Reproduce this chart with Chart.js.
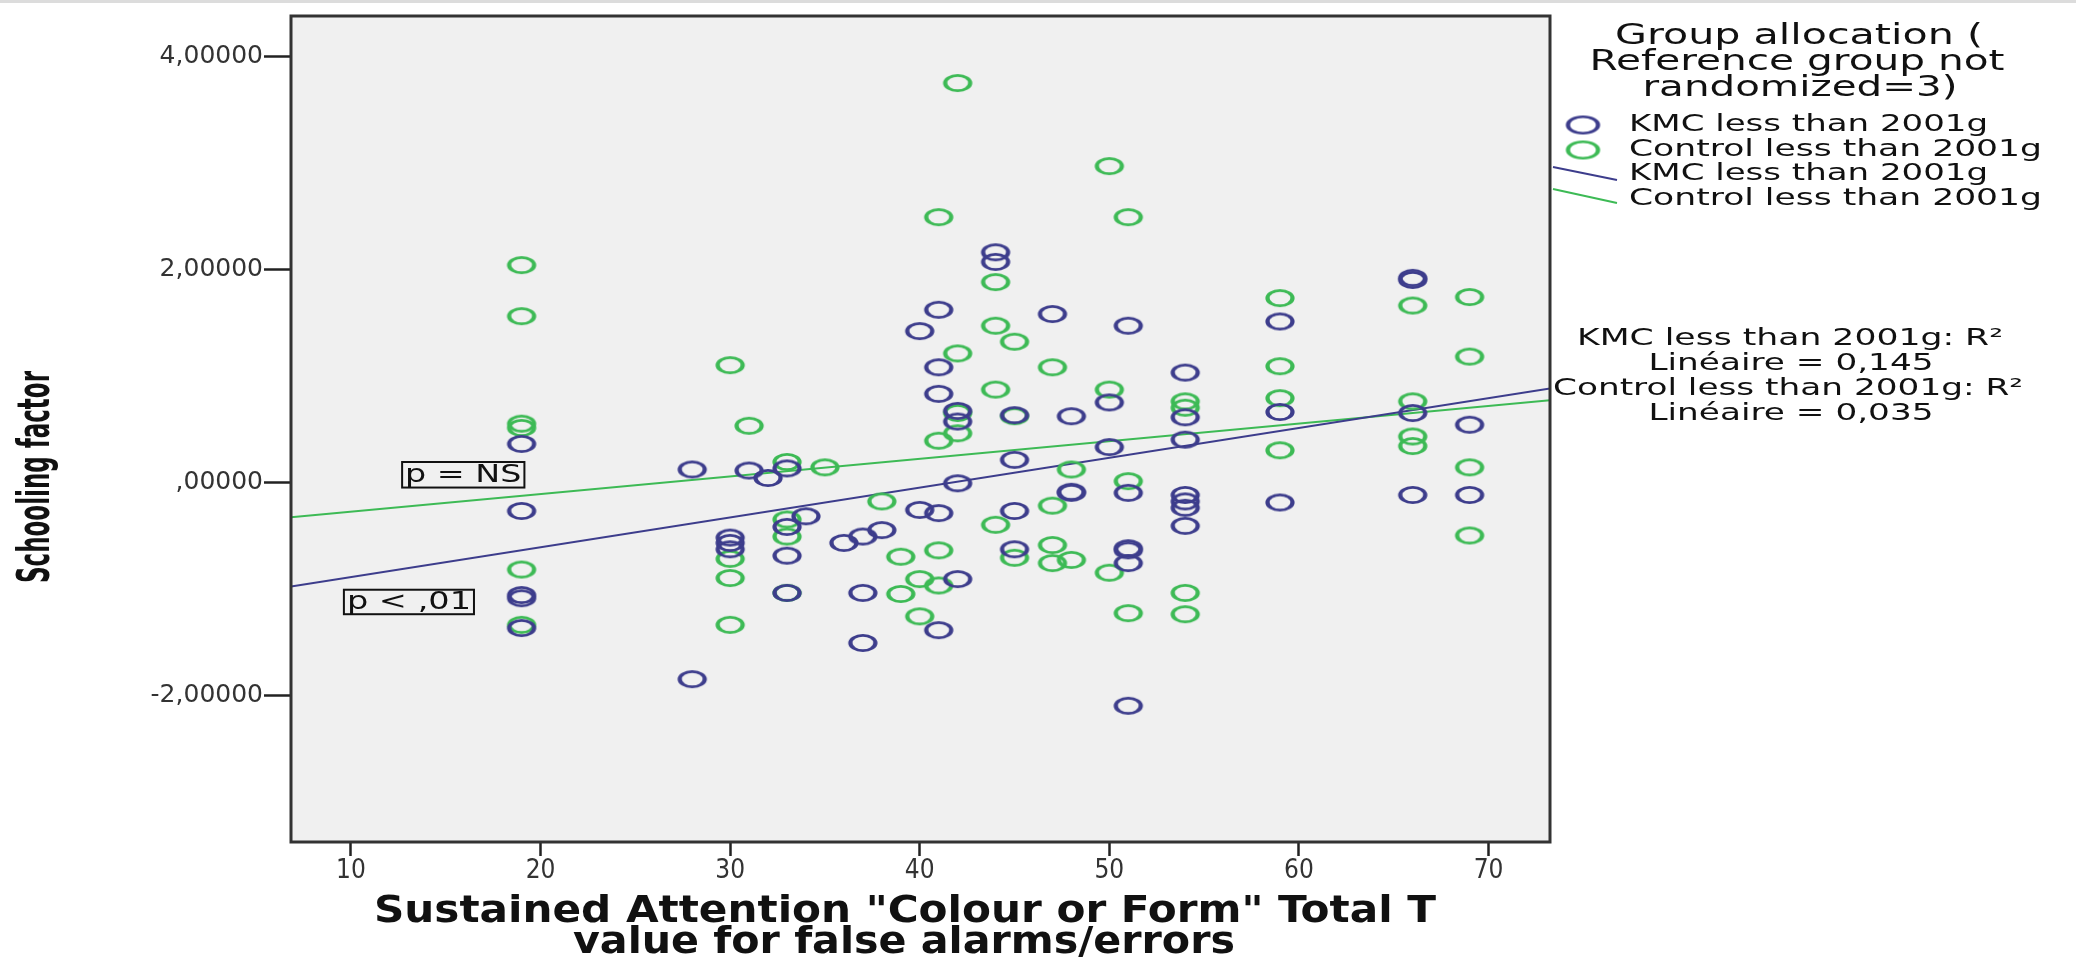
<!DOCTYPE html>
<html lang="en">

<head>
    <meta charset="UTF-8">
    <title>Schooling factor vs Sustained Attention</title>
    <style>
        body { margin: 0; background: #ffffff; }
        canvas { display: block; }
    </style>
</head>

<body>
    <canvas id="graficoCanvas" width="2076" height="958"></canvas>

    <script src="https://cdn.jsdelivr.net/npm/chart.js"></script>

    <script>
        // valores
        const kmcX = [19, 19, 19, 19, 19, 28, 28, 30, 30, 30, 31, 32, 33, 33, 33, 33, 34, 36, 37, 37, 37, 38, 40, 40,
            41, 41, 41, 41, 41, 42, 42, 42, 42, 44, 44, 45, 45, 45, 45, 47, 48, 48, 48, 50, 50,
            51, 51, 51, 51, 51, 51, 54, 54, 54, 54, 54, 54, 54, 59, 59, 59, 66, 66, 66, 66, 69, 69];
        const kmcY = [0.36, -0.27, -1.06, -1.09, -1.37, 0.12, -1.85, -0.52, -0.57, -0.63, 0.11, 0.04, 0.13, -0.42, -0.69, -1.04, -0.32, -0.57, -0.51, -1.04, -1.51, -0.45, 1.42, -0.26,
            1.62, 1.08, 0.83, -0.29, -1.39, 0.67, 0.57, -0.01, -0.91, 2.16, 2.07, 0.63, 0.21, -0.27, -0.63, 1.58, 0.62, -0.09, -0.10, 0.75, 0.33,
            1.47, -0.10, -0.62, -0.64, -0.76, -2.10, 1.03, 0.61, 0.40, -0.12, -0.18, -0.24, -0.41, 1.51, 0.66, -0.19, 1.92, 1.90, 0.65, -0.12, 0.54, -0.12];

        const ctrlX = [19, 19, 19, 19, 19, 19, 30, 30, 30, 30, 31, 33, 33, 33, 33, 35, 38, 39, 39, 40, 40,
            41, 41, 41, 41, 42, 42, 42, 42, 44, 44, 44, 44, 45, 45, 45, 47, 47, 47, 47, 48, 48,
            50, 50, 50, 51, 51, 51, 54, 54, 54, 54, 59, 59, 59, 59, 66, 66, 66, 66, 69, 69, 69, 69];
        const ctrlY = [2.04, 1.56, 0.55, 0.51, -0.82, -1.34, 1.10, -0.72, -0.90, -1.34, 0.53, 0.19, -0.35, -0.51, -1.04, 0.14, -0.18, -0.70, -1.05, -0.91, -1.26,
            2.49, 0.39, -0.64, -0.97, 3.75, 1.21, 0.65, 0.46, 1.88, 1.47, 0.87, -0.40, 1.32, 0.62, -0.71, 1.08, -0.22, -0.59, -0.76, 0.12, -0.73,
            2.97, 0.87, -0.85, 2.49, 0.01, -1.23, 0.76, 0.70, -1.04, -1.24, 1.73, 1.09, 0.79, 0.30, 1.66, 0.76, 0.43, 0.34, 1.74, 1.18, 0.14, -0.50];

        // retas de ajuste (extremos nos limites do eixo x)
        const fitX = [6.84, 73.24];
        const kmcFitY = [-0.98, 0.88];
        const ctrlFitY = [-0.33, 0.77];

        const xTickValues = [10, 20, 30, 40, 50, 60, 70];
        const yTickValues = [-2, 0, 2, 4];
        const yTickLabels = ['-2,00000', ',00000', '2,00000', '4,00000'];

        const groupNames = ['KMC less than 2001g', 'Control less than 2001g'];
        const legendTitle = ['Group allocation (', 'Reference group not', 'randomized=3)'];
        const r2Lines = ['KMC less than 2001g: R\u00b2', 'Lin\u00e9aire = 0,145', 'Control less than 2001g: R\u00b2', 'Lin\u00e9aire = 0,035'];
        const xTitle = ['Sustained Attention "Colour or Form" Total T', 'value for false alarms/errors'];
        const yTitle = 'Schooling factor';

        const AZUL = '#3d3d8c';
        const VERDE = '#3dba55';
        const NARROW = '"Liberation Sans Narrow", "DejaVu Sans Condensed", "Liberation Sans", sans-serif';
        const VERDANA = '"DejaVu Sans", Verdana, sans-serif';

        function toPoints(xs, ys) {
            return xs.map((x, i) => ({ x: x, y: ys[i] }));
        }

        // marcador oval (os circulos da figura estao esticados na horizontal)
        function criarAnel(cor, rx, ry, lw) {
            const c = document.createElement('canvas');
            c.width = Math.ceil(2 * rx + lw * rx / ry + 2);
            c.height = Math.ceil(2 * ry + lw + 2);
            const g = c.getContext('2d');
            g.translate(c.width / 2, c.height / 2);
            g.scale(rx / ry, 1);
            g.beginPath();
            g.arc(0, 0, ry, 0, Math.PI * 2);
            g.lineWidth = lw;
            g.strokeStyle = cor;
            g.stroke();
            return c;
        }

        const anelAzul = criarAnel(AZUL, 12.5, 7.6, 2.6);
        const anelVerde = criarAnel(VERDE, 12.5, 7.6, 2.6);
        const anelAzulLeg = criarAnel(AZUL, 15, 8.3, 2.4);
        const anelVerdeLeg = criarAnel(VERDE, 15, 8.3, 2.4);

        // texto ajustado a uma largura
        function textoLargura(ctx, txt, x, y, largura, fonte, align, cor) {
            ctx.save();
            ctx.font = fonte;
            const w = ctx.measureText(txt).width;
            ctx.translate(x, y);
            ctx.scale(largura / w, 1);
            ctx.textAlign = align;
            ctx.textBaseline = 'middle';
            ctx.fillStyle = cor || '#111';
            ctx.fillText(txt, 0, 0);
            ctx.restore();
        }

        const notas = [
            { texto: 'p = NS', x0: 12.7, x1: 19.15, y0: 0.19, y1: -0.05 },
            { texto: 'p < ,01', x0: 9.63, x1: 16.49, y0: -1.01, y1: -1.24 }
        ];

        const molduraPlugin = {
            id: 'moldura',
            beforeDraw(chart) {
                const a = chart.chartArea;
                const ctx = chart.ctx;
                ctx.save();
                ctx.fillStyle = '#f0f0f0';
                ctx.fillRect(a.left, a.top, a.right - a.left, a.bottom - a.top);
                ctx.fillStyle = '#dcdcdc';
                ctx.fillRect(0, 0, chart.width, 3);
                ctx.restore();
            },
            afterDatasetsDraw(chart) {
                const ctx = chart.ctx;
                const sx = chart.scales.x, sy = chart.scales.y;
                notas.forEach(n => {
                    const l = sx.getPixelForValue(n.x0), r = sx.getPixelForValue(n.x1);
                    const t = sy.getPixelForValue(n.y0), b = sy.getPixelForValue(n.y1);
                    ctx.save();
                    ctx.lineWidth = 2;
                    ctx.strokeStyle = '#111';
                    ctx.strokeRect(l, t, r - l, b - t);
                    ctx.restore();
                    textoLargura(ctx, n.texto, (l + r) / 2, (t + b) / 2 + 1, (r - l) - 6, '25px ' + VERDANA, 'center', '#111');
                });
            },
            afterDraw(chart) {
                const a = chart.chartArea;
                const ctx = chart.ctx;
                ctx.save();
                ctx.lineWidth = 3;
                ctx.strokeStyle = '#333';
                ctx.strokeRect(a.left, a.top, a.right - a.left, a.bottom - a.top);
                ctx.restore();

                // titulos dos eixos
                textoLargura(ctx, xTitle[0], 905, 912, 1062, 'bold 38px ' + NARROW, 'center', '#111');
                textoLargura(ctx, xTitle[1], 904, 943, 662, 'bold 38px ' + NARROW, 'center', '#111');
                ctx.save();
                ctx.translate(38, 477);
                ctx.rotate(-Math.PI / 2);
                textoLargura(ctx, yTitle, 0, 0, 212, 'bold 44px ' + NARROW, 'center', '#111');
                ctx.restore();

                // legenda
                const fLeg = '28px ' + VERDANA;
                textoLargura(ctx, legendTitle[0], 1799, 37, 368, fLeg, 'center');
                textoLargura(ctx, legendTitle[1], 1797, 63, 415, fLeg, 'center');
                textoLargura(ctx, legendTitle[2], 1800, 89, 315, fLeg, 'center');

                const fItem = '23px ' + VERDANA;
                ctx.drawImage(anelAzulLeg, 1583 - anelAzulLeg.width / 2, 125 - anelAzulLeg.height / 2);
                ctx.drawImage(anelVerdeLeg, 1583 - anelVerdeLeg.width / 2, 150 - anelVerdeLeg.height / 2);
                textoLargura(ctx, groupNames[0], 1629, 125, 359, fItem, 'left');
                textoLargura(ctx, groupNames[1], 1629, 150, 413, fItem, 'left');

                ctx.save();
                ctx.lineWidth = 2;
                ctx.strokeStyle = AZUL;
                ctx.beginPath(); ctx.moveTo(1553, 167); ctx.lineTo(1617, 180); ctx.stroke();
                ctx.strokeStyle = VERDE;
                ctx.beginPath(); ctx.moveTo(1553, 189); ctx.lineTo(1617, 203); ctx.stroke();
                ctx.restore();
                textoLargura(ctx, groupNames[0], 1629, 174, 359, fItem, 'left');
                textoLargura(ctx, groupNames[1], 1629, 199, 413, fItem, 'left');

                // R2
                textoLargura(ctx, r2Lines[0], 1790, 339, 426, fItem, 'center');
                textoLargura(ctx, r2Lines[1], 1791, 364, 285, fItem, 'center');
                textoLargura(ctx, r2Lines[2], 1788, 389, 470, fItem, 'center');
                textoLargura(ctx, r2Lines[3], 1791, 414, 285, fItem, 'center');
            }
        };

        const ctx = document.getElementById('graficoCanvas').getContext('2d');

        const grafico = new Chart(ctx, {
            type: 'scatter',
            data: {
                datasets: [
                    {
                        label: groupNames[0],
                        data: toPoints(kmcX, kmcY),
                        pointStyle: anelAzul,
                        pointRadius: 8,
                        borderColor: AZUL,
                        backgroundColor: AZUL
                    },
                    {
                        label: groupNames[1],
                        data: toPoints(ctrlX, ctrlY),
                        pointStyle: anelVerde,
                        pointRadius: 8,
                        borderColor: VERDE,
                        backgroundColor: VERDE
                    },
                    {
                        label: groupNames[0] + ' (linear)',
                        data: toPoints(fitX, kmcFitY),
                        showLine: true,
                        pointRadius: 0,
                        borderColor: AZUL,
                        borderWidth: 2
                    },
                    {
                        label: groupNames[1] + ' (linear)',
                        data: toPoints(fitX, ctrlFitY),
                        showLine: true,
                        pointRadius: 0,
                        borderColor: VERDE,
                        borderWidth: 2
                    }
                ]
            },
            options: {
                responsive: false,
                animation: false,
                devicePixelRatio: 1,
                layout: { padding: { left: 0, right: 526, top: 11, bottom: 0 } },
                plugins: {
                    legend: { display: false },
                    tooltip: { enabled: false }
                },
                scales: {
                    x: {
                        type: 'linear',
                        min: 6.84,
                        max: 73.24,
                        afterFit(s) { s.height = 116; },
                        afterBuildTicks(s) { s.ticks = xTickValues.map(v => ({ value: v })); },
                        border: { display: false },
                        grid: { drawOnChartArea: false, drawTicks: true, tickLength: 14, tickColor: '#222', tickWidth: 2.5 },
                        ticks: {
                            autoSkip: false,
                            maxRotation: 0,
                            padding: 0,
                            color: '#333',
                            font: { family: NARROW, size: 26 },
                            callback: (v, i) => String(xTickValues[i])
                        }
                    },
                    y: {
                        min: -3.38,
                        max: 4.38,
                        afterFit(s) { s.width = 291; },
                        afterBuildTicks(s) { s.ticks = yTickValues.map(v => ({ value: v })); },
                        border: { display: false },
                        grid: { drawOnChartArea: false, drawTicks: true, tickLength: 27, tickColor: '#222', tickWidth: 2.5 },
                        ticks: {
                            autoSkip: false,
                            padding: 1,
                            color: '#333',
                            font: { family: VERDANA, size: 25 },
                            callback: (v, i) => yTickLabels[i]
                        }
                    }
                }
            },
            plugins: [molduraPlugin]
        });
    </script>
</body>

</html>
